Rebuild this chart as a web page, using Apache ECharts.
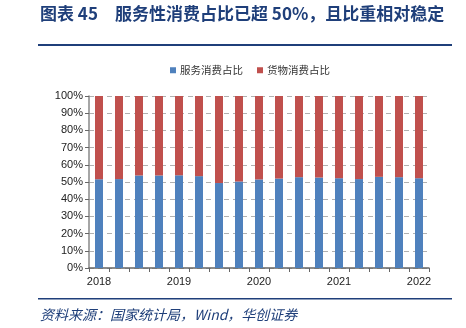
<!DOCTYPE html>
<html><head><meta charset="utf-8">
<script src="https://cdn.jsdelivr.net/npm/echarts@6/dist/echarts.min.js"></script>
<style>html,body{margin:0;padding:0;background:#fff}#c{width:466px;height:328px}</style>
</head><body><div id="c"></div>
<script>
const categories = ["2018Q1","2018Q2","2018Q3","2018Q4","2019Q1","2019Q2","2019Q3","2019Q4","2020Q1","2020Q2","2020Q3","2020Q4","2021Q1","2021Q2","2021Q3","2021Q4","2022Q1"];
const serviceShare = [51.6, 51.7, 53.8, 53.8, 53.9, 53.4, 49.4, 50.3, 51.5, 52.0, 52.8, 52.6, 52.2, 51.7, 53.0, 52.8, 52.2];
const goodsShare = [48.4, 48.3, 46.2, 46.2, 46.1, 46.6, 50.6, 49.7, 48.5, 48.0, 47.2, 47.4, 47.8, 48.3, 47.0, 47.2, 47.8];
const seriesNames = ["服务消费占比", "货物消费占比"];
const titleLead = "图表 45";
const titleText = "服务性消费占比已超 50%，且比重相对稳定";
const sourceText = "资料来源：国家统计局，Wind，华创证券";

const chart = echarts.init(document.getElementById('c'));
const navy = '#1f3f7a';
chart.setOption({
  backgroundColor: '#fff',
  animation: false,
  graphic: [
    {type:'text', left: 40, top: 5, style:{text: titleLead, fill: navy, font: 'bold 17px "Noto Sans CJK SC"'}},
    {type:'text', left: 115, top: 5, style:{text: titleText, fill: navy, font: 'bold 17px "Noto Sans CJK SC"'}},
    {type:'rect', shape:{x:38, y:44, width:414, height:2}, style:{fill: navy}},
    {type:'rect', shape:{x:38, y:298, width:414, height:1.5}, style:{fill: navy}},
    {type:'text', left: 40, top: 308, style:{text: sourceText, fill: navy, font: 'italic 14px "Noto Sans CJK SC"'}}
  ],
  legend: {
    top: 60, left: 165,
    itemWidth: 6, itemHeight: 6, itemGap: 14,
    icon: 'rect',
    textStyle: {fontSize: 10.5, color: '#333', fontFamily: '"Noto Sans CJK SC"', padding:[0,0,0,-1]},
    data: seriesNames
  },
  grid: {left: 89, right: 37, top: 96, bottom: 60},
  xAxis: {
    type: 'category', data: categories,
    axisLine: {lineStyle: {color: '#666', width: 1.5}},
    axisTick: {show: true, alignWithLabel: false, interval: 0, length: 4, lineStyle:{color:'#666'}},
    axisLabel: {interval: 3, color: '#222', fontSize: 11, fontFamily: 'Arial, "Liberation Sans"', margin: 8,
      formatter: v => v.slice(0,4)}
  },
  yAxis: {
    type: 'value', min: 0, max: 100, interval: 10,
    axisLine: {show: true, lineStyle: {color: '#888', width: 1.5}},
    axisTick: {show: true, length: 4, lineStyle:{color:'#666'}},
    axisLabel: {formatter: '{value}%', color: '#222', fontSize: 11, fontFamily: 'Arial, "Liberation Sans"', margin: 6},
    splitLine: {lineStyle: {color: '#b0b0b0', type: [5,4]}}
  },
  series: [
    {name: seriesNames[0], type: 'bar', stack: 'a', data: serviceShare, barWidth: 8,
     itemStyle: {color: '#4f81bd'}},
    {name: seriesNames[1], type: 'bar', stack: 'a', data: goodsShare, barWidth: 8,
     itemStyle: {color: '#c0504d'}}
  ]
});
</script></body></html>
